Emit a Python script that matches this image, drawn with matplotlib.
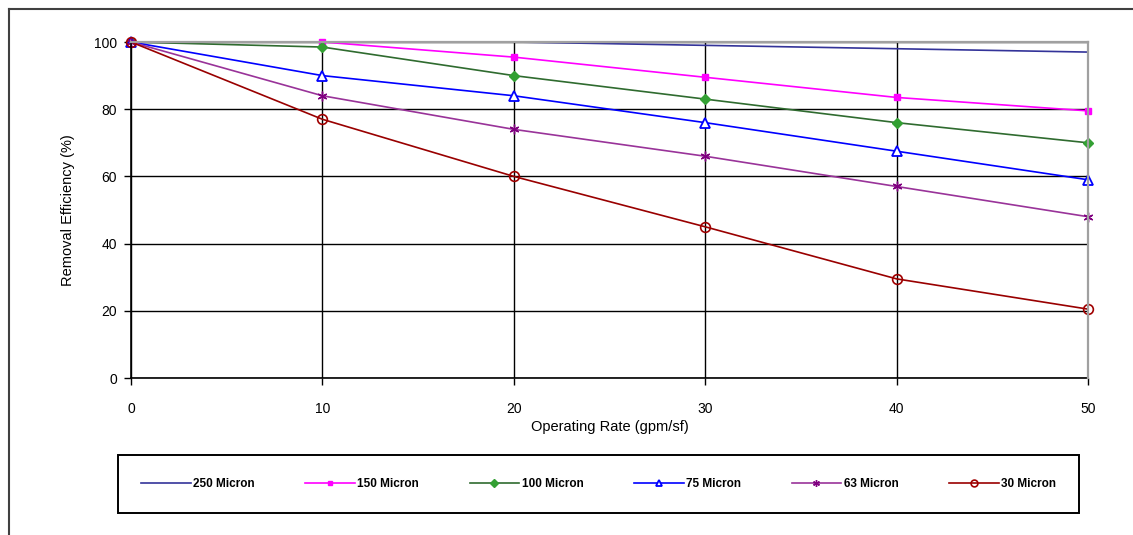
import matplotlib
matplotlib.use("Agg")
import matplotlib.pyplot as plt
from matplotlib.lines import Line2D

plt.rcParams['font.family'] = ['Liberation Sans', 'DejaVu Sans']

# data
rate = [0, 10, 20, 30, 40, 50]
eff_250 = [100, 100, 100, 99, 98, 97]
eff_150 = [100, 100, 95.5, 89.5, 83.5, 79.5]
eff_100 = [100, 98.5, 90, 83, 76, 70]
eff_75 = [100, 90, 84, 76, 67.5, 59]
eff_63 = [100, 84, 74, 66, 57, 48]
eff_30 = [100, 77, 60, 45, 29.5, 20.5]
labels = ['250 Micron', '150 Micron', '100 Micron', '75 Micron', '63 Micron', '30 Micron']

W, H = 1133, 535
fig = plt.figure(figsize=(W / 100, H / 100), dpi=100)
ax = fig.add_axes([131 / W, 1 - 378 / H, (1088 - 131) / W, (378 - 42) / H])

lw = 1.2
ax.plot(rate, eff_250, color='#333399', lw=lw, label=labels[0], clip_on=False)
ax.plot(rate, eff_150, color='#FF00FF', lw=lw, marker='s', ms=5,
        mfc='#FF00FF', mec='#FF00FF', label=labels[1], clip_on=False)
ax.plot(rate, eff_100, color='#2F6B2F', lw=lw, marker='D', ms=5.5,
        mfc='#33A033', mec='#33A033', label=labels[2], clip_on=False)
ax.plot(rate, eff_75, color='#0000FF', lw=lw, marker='^', ms=7,
        mfc='white', mec='#0000FF', mew=1.3, label=labels[3], clip_on=False)
ax.plot(rate, eff_63, color='#993399', lw=lw, marker=(6, 2, 0), ms=7,
        mec='#800080', mew=1.0, label=labels[4], clip_on=False)
ax.plot(rate, eff_30, color='#990000', lw=lw, marker='o', ms=7,
        mfc='none', mec='#A00000', mew=1.2, label=labels[5], clip_on=False)

ax.set_xlim(0, 50)
ax.set_ylim(0, 100)
ax.set_xticks(range(0, 51, 10))
ax.set_yticks(range(0, 101, 20))
ax.grid(True, color='black', lw=1.0)
ax.set_axisbelow(True)
ax.tick_params(direction='out', length=5, width=1, colors='black', labelsize=10)
ax.tick_params(axis='x', pad=12)
ax.tick_params(axis='y', pad=5)
for s in ['left', 'bottom']:
    ax.spines[s].set_color('black')
    ax.spines[s].set_linewidth(1.2)
for s in ['top', 'right']:
    ax.spines[s].set_color('#A0A0A0')
    ax.spines[s].set_linewidth(1.6)
    ax.spines[s].set_zorder(3)

ax.set_xlabel('Operating Rate (gpm/sf)', fontsize=10.5, labelpad=3)
ax.set_ylabel('Removal Efficiency (%)', fontsize=10.5, labelpad=14)

leg = fig.legend(loc='lower left', ncol=6, mode='expand',
                 bbox_to_anchor=(118 / W, 1 - 513 / H, (1079 - 118) / W, 55 / H),
                 fancybox=False, framealpha=1, edgecolor='black',
                 prop={'size': 8.5, 'weight': 'bold'}, handlelength=4.2,
                 borderaxespad=0, borderpad=1.95, handletextpad=0.2, markerscale=0.7)
leg.get_frame().set_linewidth(1.4)

# outer chart border (only top and left visible)
fig.add_artist(Line2D([9 / W, 1], [1 - 9 / H, 1 - 9 / H], color='#404040', lw=1.5,
                      transform=fig.transFigure))
fig.add_artist(Line2D([9 / W, 9 / W], [0, 1 - 9 / H], color='#404040', lw=1.5,
                      transform=fig.transFigure))

fig.savefig('out.png', dpi=100)
